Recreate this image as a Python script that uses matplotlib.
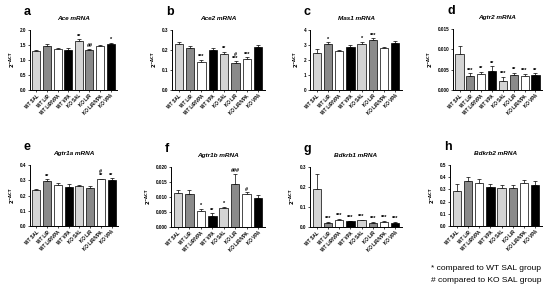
import matplotlib
matplotlib.use("Agg")
import matplotlib.pyplot as plt
import numpy as np

plt.rcParams['font.family'] = ['Liberation Sans', 'DejaVu Sans']

groups = ["WT SAL", "WT LiR", "WT LiR/VPA", "WT VPA", "KO SAL", "KO LiR", "KO LiR/VPA", "KO VPA"]
bar_colors = ["#d4d4d4", "#8a8a8a", "#ffffff", "#000000", "#d4d4d4", "#8a8a8a", "#ffffff", "#000000"]

ace = [1.30, 1.48, 1.37, 1.35, 1.62, 1.33, 1.47, 1.53]
ace_err = [0.05, 0.04, 0.03, 0.05, 0.07, 0.05, 0.04, 0.05]
ace_sig = ["", "", "", "", "**", "##", "", "*"]

ace2 = [0.230, 0.210, 0.140, 0.200, 0.180, 0.135, 0.155, 0.215]
ace2_err = [0.008, 0.008, 0.010, 0.008, 0.010, 0.008, 0.008, 0.010]
ace2_sig = ["", "", "***", "", "**", "#\n***", "***", ""]

mas1 = [2.45, 3.05, 2.57, 2.87, 3.05, 3.35, 2.77, 3.15]
mas1_err = [0.30, 0.12, 0.07, 0.12, 0.15, 0.10, 0.08, 0.15]
mas1_sig = ["", "*", "", "", "*", "***", "", ""]

agtr2 = [0.0088, 0.0034, 0.0040, 0.0046, 0.0022, 0.0036, 0.0034, 0.0036]
agtr2_err = [0.0021, 0.0007, 0.0005, 0.0012, 0.0010, 0.0007, 0.0006, 0.0005]
agtr2_sig = ["", "***", "**", "**", "***", "**", "***", "**"]

agtr1a = [0.235, 0.295, 0.270, 0.258, 0.262, 0.250, 0.305, 0.302]
agtr1a_err = [0.010, 0.012, 0.010, 0.020, 0.010, 0.012, 0.005, 0.010]
agtr1a_sig = ["", "**", "", "", "", "", "#\n**", "**"]

agtr1b = [0.0113, 0.0109, 0.0052, 0.0038, 0.0062, 0.0143, 0.0110, 0.0097]
agtr1b_err = [0.0010, 0.0015, 0.0008, 0.0008, 0.0005, 0.0035, 0.0006, 0.0010]
agtr1b_sig = ["", "", "*", "**", "*", "###", "#", ""]

bdkrb1 = [0.190, 0.022, 0.035, 0.028, 0.033, 0.022, 0.027, 0.022]
bdkrb1_err = [0.075, 0.003, 0.005, 0.004, 0.003, 0.003, 0.003, 0.003]
bdkrb1_sig = ["", "***", "***", "***", "***", "***", "***", "***"]

bdkrb2 = [0.290, 0.370, 0.355, 0.320, 0.315, 0.310, 0.350, 0.340]
bdkrb2_err = [0.055, 0.030, 0.030, 0.025, 0.020, 0.025, 0.030, 0.025]
bdkrb2_sig = ["", "", "", "", "", "", "", ""]

panels = [
    ("a", "Ace", ace, ace_err, ace_sig, [0, 0.5, 1.0, 1.5, 2.0], "%.1f", (30, 117, 30, 90)),
    ("b", "Ace2", ace2, ace2_err, ace2_sig, [0, 0.1, 0.2, 0.3], "%.1f", (172, 265, 30, 90)),
    ("c", "Mas1", mas1, mas1_err, mas1_sig, [0, 1, 2, 3, 4], "%d", (310, 402, 30, 90)),
    ("d", "Agtr2", agtr2, agtr2_err, agtr2_sig, [0, 0.005, 0.010, 0.015], "%.3f", (453, 542, 29, 90)),
    ("e", "Agtr1a", agtr1a, agtr1a_err, agtr1a_sig, [0, 0.1, 0.2, 0.3, 0.4], "%.1f", (30, 118, 165, 226)),
    ("f", "Agtr1b", agtr1b, agtr1b_err, agtr1b_sig, [0, 0.005, 0.010, 0.015, 0.020], "%.3f", (171, 265, 167, 227)),
    ("g", "Bdkrb1", bdkrb1, bdkrb1_err, bdkrb1_sig, [0, 0.1, 0.2, 0.3], "%.1f", (310, 402, 167, 227)),
    ("h", "Bdkrb2", bdkrb2, bdkrb2_err, bdkrb2_sig, [0, 0.1, 0.2, 0.3, 0.4, 0.5], "%.1f", (450, 542, 165, 226)),
]

W, H = 550, 291
fig = plt.figure(figsize=(W / 100, H / 100), dpi=100)

for letter, gene, vals, errs, sigs, yt, fmt, (x0, x1, y0, y1) in panels:
    ax = fig.add_axes([x0 / W, 1 - y1 / H, (x1 - x0) / W, (y1 - y0) / H])
    x = np.arange(len(groups))
    ax.bar(x, vals, width=0.75, color=bar_colors, edgecolor="black", linewidth=0.5, zorder=2)
    ax.errorbar(x, vals, yerr=[np.zeros(len(vals)), errs], fmt="none", ecolor="black",
                elinewidth=0.5, capsize=1.3, capthick=0.5, zorder=1)
    for xi, v, e, s in zip(x, vals, errs, sigs):
        if s:
            ax.annotate(s, (xi, v + e), xytext=(0, 0.5), textcoords="offset points",
                        ha="center", va="bottom", fontsize=4, fontweight="bold", linespacing=0.8)
    ax.set_xlim(-0.6, 7.6)
    ax.set_ylim(0, yt[-1])
    ax.set_yticks(yt)
    ax.set_yticklabels([fmt % t for t in yt], fontsize=3.3, fontweight="bold")
    ax.set_xticks(x)
    ax.set_xticklabels(groups, rotation=45, ha="right", rotation_mode="anchor", fontsize=3.3, fontweight="bold")
    ax.tick_params(axis="both", length=1.5, width=0.5, pad=1)
    for sp in ["top", "right"]:
        ax.spines[sp].set_visible(False)
    for sp in ["left", "bottom"]:
        ax.spines[sp].set_linewidth(0.7)
    ax.set_ylabel(r"$\mathbf{2^{-\Delta CT}}$", fontsize=3.8, labelpad=2)
    ax.set_title(gene + " mRNA", fontsize=4.6, fontweight="bold", style="italic", pad=7)
    ax_h = y1 - y0
    ax.text(-6 / (x1 - x0), 1 + 15 / ax_h, letter, transform=ax.transAxes, fontsize=9,
            fontweight="bold", ha="left", va="baseline")

fig.text(431 / W, 1 - 268 / H, "* compared to WT SAL group", fontsize=6, va="center", ha="left")
fig.text(431 / W, 1 - 281 / H, "# compared to KO SAL group", fontsize=6, va="center", ha="left")

fig.savefig("out.png", dpi=100)
